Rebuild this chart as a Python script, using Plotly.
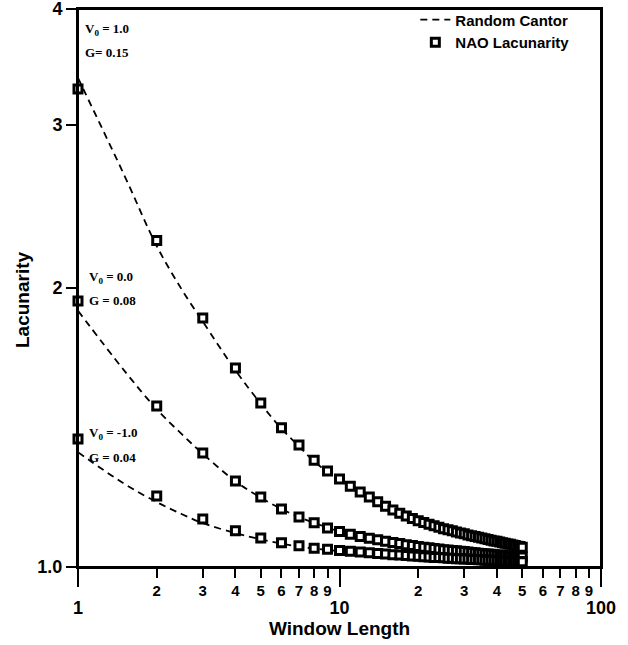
import plotly.graph_objects as go

# ---------------- data ----------------
window = list(range(1, 51))

nao_v1 = [3.28, 2.25, 1.856, 1.64, 1.503, 1.413, 1.354, 1.304, 1.269, 1.244,
          1.222, 1.205, 1.190, 1.176, 1.163, 1.152, 1.143, 1.135, 1.128, 1.122,
          1.117, 1.112, 1.108, 1.104, 1.100, 1.097, 1.094, 1.091, 1.088, 1.086,
          1.083, 1.081, 1.079, 1.077, 1.075, 1.073, 1.071, 1.069, 1.067, 1.066,
          1.064, 1.062, 1.061, 1.059, 1.058, 1.056, 1.055, 1.053, 1.052, 1.050]

nao_v0 = [1.936, 1.492, 1.327, 1.238, 1.190, 1.155, 1.132, 1.116, 1.102, 1.092,
          1.085, 1.079, 1.074, 1.070, 1.066, 1.063, 1.060, 1.057, 1.055, 1.052,
          1.050, 1.049, 1.047, 1.046, 1.044, 1.043, 1.042, 1.041, 1.040, 1.039,
          1.038, 1.037, 1.036, 1.035, 1.034, 1.033, 1.033, 1.032, 1.031, 1.030,
          1.030, 1.029, 1.028, 1.028, 1.027, 1.027, 1.026, 1.026, 1.025, 1.025]

nao_vm1 = [1.374, 1.193, 1.127, 1.094, 1.075, 1.062, 1.054, 1.048, 1.045, 1.042,
           1.040, 1.038, 1.036, 1.034, 1.033, 1.031, 1.030, 1.029, 1.028, 1.027,
           1.026, 1.025, 1.024, 1.024, 1.023, 1.022, 1.022, 1.021, 1.021, 1.020,
           1.020, 1.019, 1.019, 1.018, 1.018, 1.017, 1.017, 1.017, 1.016, 1.016,
           1.016, 1.015, 1.015, 1.015, 1.014, 1.014, 1.014, 1.013, 1.013, 1.013]

cantor_x = [1, 1.5, 2, 2.5, 3, 4, 5, 6, 7, 8, 10, 12, 15, 20, 25, 30, 40, 50]
cantor_v1 = [3.37, 2.65, 2.22, 1.99, 1.84, 1.63, 1.50, 1.41, 1.35, 1.30, 1.24,
             1.20, 1.16, 1.12, 1.097, 1.084, 1.064, 1.049]
cantor_v0 = [1.89, 1.63, 1.48, 1.39, 1.325, 1.237, 1.188, 1.155, 1.132, 1.116,
             1.092, 1.078, 1.065, 1.051, 1.043, 1.038, 1.030, 1.025]
cantor_vm1 = [1.33, 1.23, 1.175, 1.14, 1.115, 1.088, 1.071, 1.060, 1.052, 1.047,
              1.040, 1.036, 1.031, 1.026, 1.022, 1.020, 1.016, 1.013]

labels = [("V<sub>0</sub> = 1.0", "G= 0.15"),
          ("V<sub>0</sub> = 0.0", "G = 0.08"),
          ("V<sub>0</sub> = -1.0", "G = 0.04")]

x_major = [1, 10, 100]
x_major_text = ["1", "10", "100"]
x_minor = [2, 3, 4, 5, 6, 7, 8, 9, 20, 30, 40, 50, 60, 70, 80, 90]
x_minor_text = ["2", "3", "4", "5", "6", "7", "8", "9",
                "2", "3", "4", "5", "6", "7", "8", "9"]
y_ticks = [1, 2, 3, 4]
y_text = ["1.0", "2", "3", "4"]

# ---------------- figure ----------------
SANS = "Liberation Sans, Arial, sans-serif"
SERIF = "Liberation Serif, Times New Roman, serif"

fig = go.Figure()

for i, cy in enumerate([cantor_v1, cantor_v0, cantor_vm1]):
    fig.add_trace(go.Scatter(
        x=cantor_x, y=cy, mode="lines", line_shape="spline",
        line=dict(color="black", width=1.8, dash="7px,5px"),
        name="Random Cantor", legendgroup="rc", showlegend=(i == 0),
        cliponaxis=False))

for i, ny in enumerate([nao_v1, nao_v0, nao_vm1]):
    fig.add_trace(go.Scatter(
        x=window, y=ny, mode="markers",
        marker=dict(symbol="square", size=8, color="white",
                    line=dict(color="black", width=3)),
        name="NAO Lacunarity", legendgroup="nao", showlegend=(i == 0),
        cliponaxis=False))

# dummy trace for the minor-label axis
fig.add_trace(go.Scatter(x=[1, 100], y=[1, 1], xaxis="x2", mode="markers",
                         marker=dict(opacity=0), showlegend=False,
                         hoverinfo="skip"))

# V0 / G annotations
ann_pos = [(83, 29, 52), (87, 277, 300), (87, 433, 457)]
PL, PB, PW, PH = 78, 567, 523, 558
for (vtxt, gtxt), (px, vy, gy) in zip(labels, ann_pos):
    for txt, py in [(vtxt, vy), (gtxt, gy)]:
        fig.add_annotation(
            x=(px - PL) / PW, y=(PB - py) / PH, xref="paper", yref="paper",
            xanchor="left", yanchor="middle", showarrow=False,
            text=txt, font=dict(family=SERIF, size=13, color="black", weight="bold"))

# y-axis title as annotation (placed like the reference)
fig.add_annotation(
    x=(22 - PL) / PW, y=(PB - 300) / PH, xref="paper", yref="paper",
    xanchor="center", yanchor="middle", showarrow=False, textangle=-90,
    text="Lacunarity", font=dict(family=SANS, size=19, color="black", weight="bold"))

# frame around the plot area
fig.add_shape(type="rect", xref="paper", yref="paper", x0=0, x1=1, y0=0, y1=1,
              line=dict(color="black", width=2), layer="above")

fig.update_layout(
    width=628, height=645,
    margin=dict(l=78, r=27, t=9, b=78, autoexpand=False),
    paper_bgcolor="white", plot_bgcolor="white",
    font=dict(family=SANS, color="black"),
    showlegend=True,
    legend=dict(x=0.645, y=1.01, xanchor="left", yanchor="top",
                bgcolor="rgba(0,0,0,0)", borderwidth=0,
                font=dict(family=SANS, size=15, color="black", weight="bold"),
                tracegroupgap=0, itemwidth=30),
    xaxis=dict(type="log", range=[0, 2], tickmode="array",
               tickvals=x_major, ticktext=x_major_text,
               ticks="outside", ticklen=18, tickwidth=2, tickcolor="black",
               ticklabelstandoff=5, automargin=False, ticklabeloverflow="allow",
               tickfont=dict(family=SANS, size=18, color="black", weight="bold"),
               showline=True, linewidth=2, linecolor="black", mirror=True,
               showgrid=False, zeroline=False,
               title=dict(text="Window Length", standoff=4,
                          font=dict(family=SANS, size=19, color="black", weight="bold"))),
    xaxis2=dict(type="log", range=[0, 2], overlaying="x", anchor="y", side="bottom",
                tickmode="array", tickvals=x_minor, ticktext=x_minor_text,
                ticks="outside", ticklen=10, tickwidth=2, tickcolor="black",
                ticklabelstandoff=0, automargin=False, ticklabeloverflow="allow",
                tickfont=dict(family=SANS, size=15, color="black", weight="bold"),
                showline=False, showgrid=False, zeroline=False),
    yaxis=dict(type="log", range=[0, 0.60206], tickmode="array",
               tickvals=y_ticks, ticktext=y_text, automargin=False,
               ticklabeloverflow="allow",
               ticks="outside", ticklen=10, tickwidth=2, tickcolor="black",
               tickfont=dict(family=SANS, size=18, color="black", weight="bold"),
               showline=True, linewidth=2, linecolor="black", mirror=True,
               showgrid=False, zeroline=False),
)

fig.write_html("out.html")
